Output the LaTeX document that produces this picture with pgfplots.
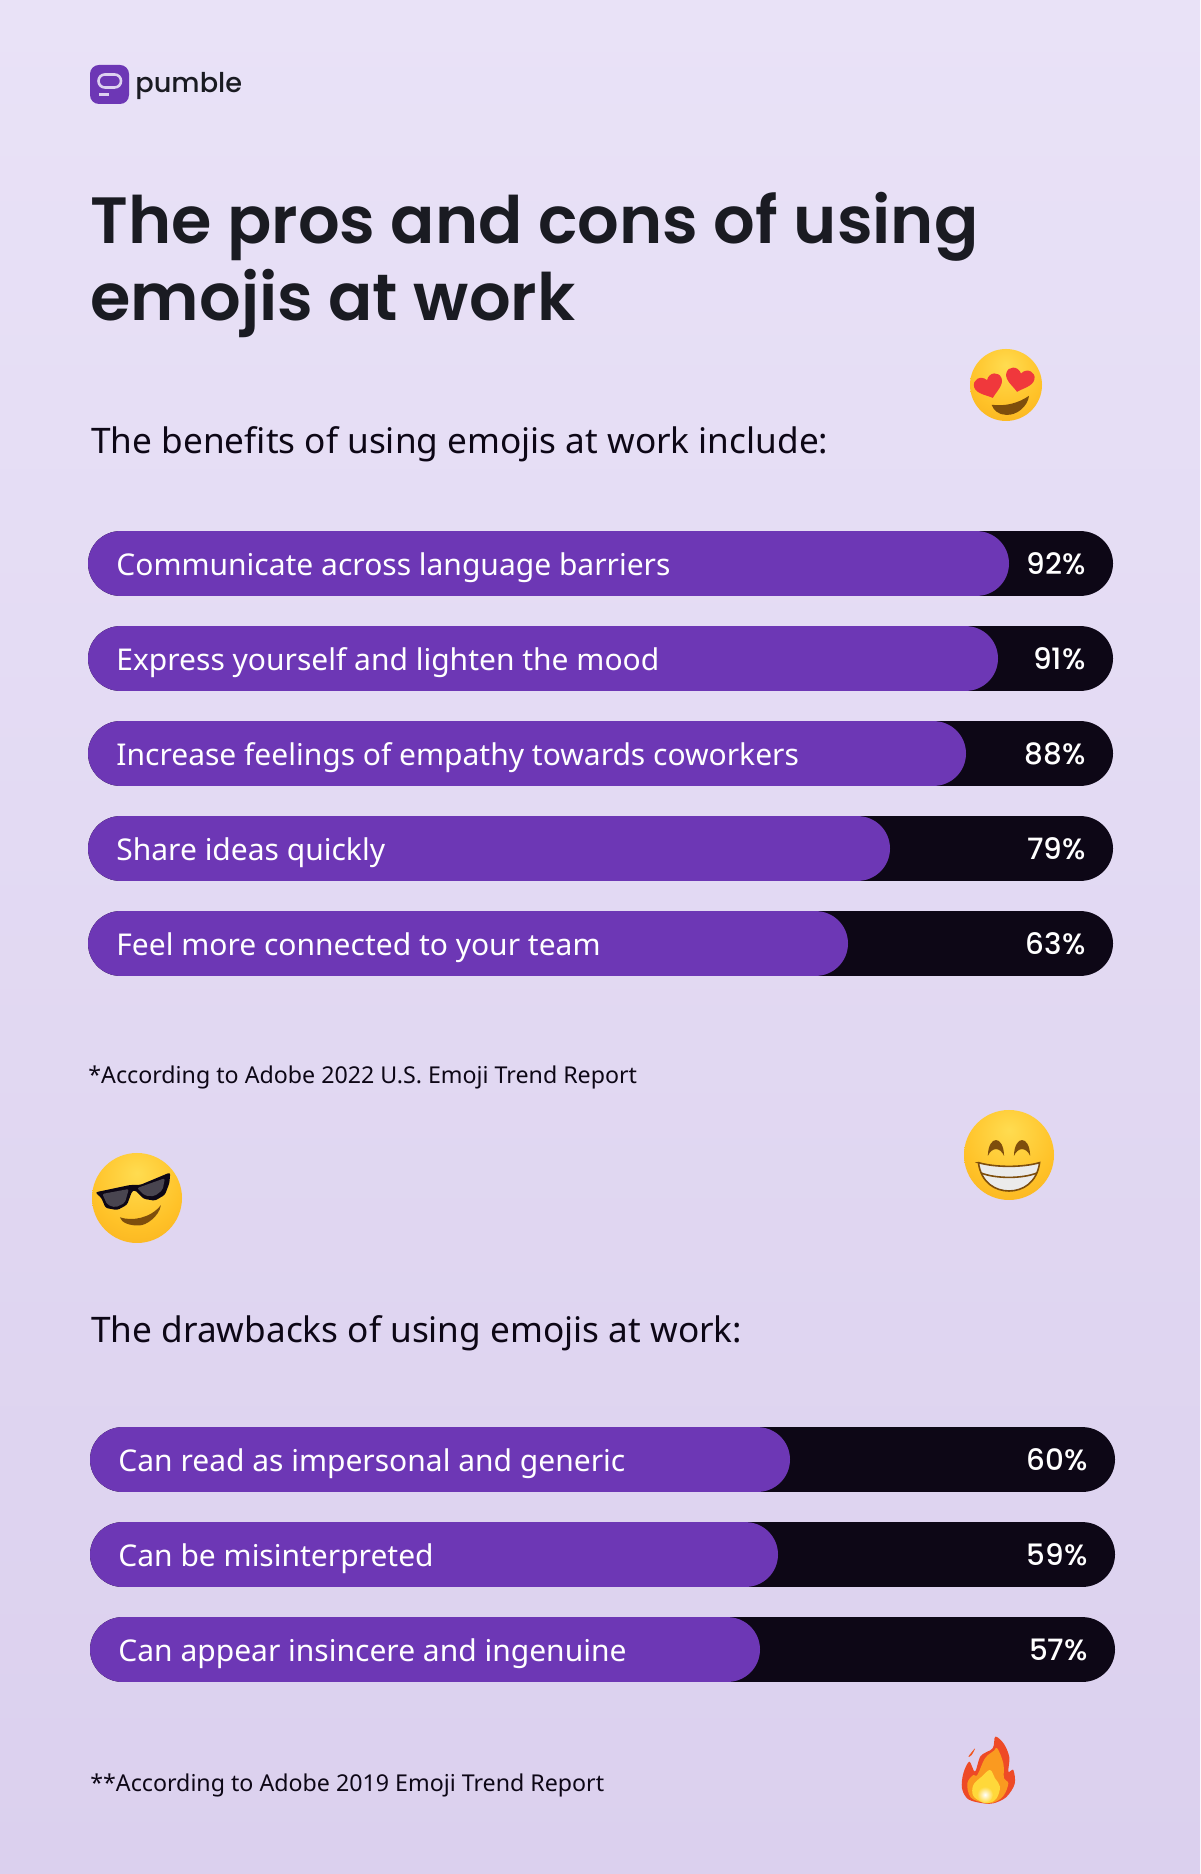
\documentclass[border=0pt]{standalone}
\usepackage{pgfplots}
\usepackage{pgfplotstable}
\usepackage{fontspec}
\pgfplotsset{compat=1.18}
\setmainfont{Noto Sans}
\newfontfamily\headfont{Poppins Medium}
\newfontfamily\titlefont{Poppins SemiBold}

\definecolor{barpurple}{HTML}{6D37B5}
\definecolor{trackdark}{HTML}{0D0716}
\definecolor{inkdark}{HTML}{1A1B22}
\definecolor{bgtop}{HTML}{E9E2F7}
\definecolor{bgbot}{HTML}{DBD0EE}
\definecolor{faceout}{HTML}{E98C0A}
\definecolor{facemid}{HTML}{FFC228}
\definecolor{facein}{HTML}{FFDC50}
\definecolor{facebrown}{HTML}{7E4E0C}
\definecolor{heartred}{HTML}{F0383C}
\definecolor{flamered}{HTML}{EE4A26}
\definecolor{flameorange}{HTML}{FA9A20}
\definecolor{flameyellow}{HTML}{FFD83A}

\pgfdeclareradialshading{emojiface}{\pgfpoint{0bp}{14bp}}{
  color(0bp)=(facein); color(26bp)=(facemid); color(46bp)=(facemid!60!faceout); color(62bp)=(faceout); color(100bp)=(faceout)}

% y = bar centre in picture pixels, len = purple length, pct = printed share
\pgfplotstableread{
y     track  len  pct
563.5 1025   921  92
658.5 1025   910  91
753.5 1025   878  88
848.5 1025   802  79
943.5 1025   760  63
}\benefits
\pgfplotstableread{
y      track  len  pct
1459.5 1025   700  60
1554.5 1025   688  59
1649.5 1025   670  57
}\drawbacks

\pgfplotsset{
  pic axis/.style={
    scale only axis, width=600pt, height=937pt,
    ymin=0, ymax=1874, y dir=reverse,
    hide axis, clip=false,
    at={(0,0)}, anchor=south west,
  },
  pill/.style={xbar, bar width=32.4pt, draw=none, fill=#1, rounded corners=16.2pt},
  share/.style={
    only marks, mark=none, point meta=explicit,
    /pgf/number format/assume math mode=true,
    nodes near coords={\pgfmathprintnumber{\pgfplotspointmeta}\%},
    nodes near coords align={anchor=east},
    every node near coord/.append style={text=white, font=\headfont\fontsize{14.7}{16}\selectfont, inner sep=0pt},
  },
}
\tikzset{
  barlabel/.style={anchor=west, text=white, inner sep=0pt, yshift=-2.2pt, font=\fontsize{15}{18}\selectfont},
  heading/.style={anchor=base west, text=trackdark, inner sep=0pt, font=\fontsize{17.6}{20}\selectfont},
  source/.style={anchor=base west, text=trackdark, inner sep=0pt, font=\fontsize{11.6}{14}\selectfont},
  titleline/.style={anchor=base west, text=inkdark, inner sep=0pt, font=\titlefont\fontsize{32.7}{38}\selectfont},
  face/.style={shading=emojiface},
}
\newcommand{\heart}[3]{% x, y, rotate
  \fill[heartred, shift={(#1,#2)}, rotate=#3, scale=0.4]
    (0,-.3) .. controls (-.3,-.8) and (-1,-.65) .. (-1,-.1)
    .. controls (-1,.4) and (-.3,.7) .. (0,1)
    .. controls (.3,.7) and (1,.4) .. (1,-.1)
    .. controls (1,-.65) and (.3,-.8) .. (0,-.3) -- cycle;
}

\begin{document}
\begin{tikzpicture}
\shade[top color=bgtop, bottom color=bgbot] (0,0) rectangle (600pt,937pt);

% benefits
\begin{axis}[pic axis, xmin=-88, xmax=1112]
\addplot[pill=trackdark] table[x=track, y=y] {\benefits};
\addplot[pill=barpurple] table[x=len, y=y] {\benefits};
\addplot[share] table[x expr=998, y=y, meta=pct] {\benefits};
\node[barlabel] at (axis cs:28,563.5) {Communicate across language barriers};
\node[barlabel] at (axis cs:28,658.5) {Express yourself and lighten the mood};
\node[barlabel] at (axis cs:28,753.5) {Increase feelings of empathy towards coworkers};
\node[barlabel] at (axis cs:28,848.5) {Share ideas quickly};
\node[barlabel] at (axis cs:28,943.5) {Feel more connected to your team};
\end{axis}

% drawbacks
\begin{axis}[pic axis, xmin=-90, xmax=1110]
\addplot[pill=trackdark] table[x=track, y=y] {\drawbacks};
\addplot[pill=barpurple] table[x=len, y=y] {\drawbacks};
\addplot[share] table[x expr=998, y=y, meta=pct] {\drawbacks};
\node[barlabel] at (axis cs:28,1459.5) {Can read as impersonal and generic};
\node[barlabel] at (axis cs:28,1554.5) {Can be misinterpreted};
\node[barlabel] at (axis cs:28,1649.5) {Can appear insincere and ingenuine};
\end{axis}

% texts, in picture pixels
\begin{axis}[pic axis, xmin=0, xmax=1200]
\addplot[draw=none] coordinates {(0,0) (1200,1874)};
\node[titleline] at (axis cs:90,243) {The pros and cons of using};
\node[titleline] at (axis cs:90,320) {emojis at work};
\node[heading] at (axis cs:91,453) {The benefits of using emojis at work include:};
\node[heading] at (axis cs:91,1342) {The drawbacks of using emojis at work:};
\node[source] at (axis cs:88,1083) {*According to Adobe 2022 U.S. Emoji Trend Report};
\node[source] at (axis cs:90,1791) {**According to Adobe 2019 Emoji Trend Report};
\node[anchor=base west, text=inkdark, inner sep=0pt, font=\headfont\fontsize{13.6}{18}\selectfont] at (axis cs:135,92) {pumble};
\end{axis}

% logo and emoji artwork, in picture pixels
\begin{scope}[x=0.5pt, y=-0.5pt, yshift=937pt]
  \fill[barpurple, rounded corners=4.5pt] (90,65) rectangle (129,104);
  \draw[draw=bgtop!90!barpurple, line width=1.3pt, rounded corners=3.2pt] (98.5,74.5) rectangle (121,87.5);
  \draw[draw=bgtop!90!barpurple, line width=1.4pt] (99,94.5) -- (109,94.5);

  % heart eyes
  \begin{scope}[shift={(1006,385)}, scale=36]
    \shade[face] (0,0) circle (1);
    \heart{-.49}{-.02}{18}
    \heart{.39}{-.2}{-12}
    \fill[facebrown] (-.4,.55) .. controls (0,.6) and (.35,.5) .. (.64,.3)
      .. controls (.6,.6) and (.3,.85) .. (0,.83)
      .. controls (-.2,.83) and (-.35,.7) .. cycle;
  \end{scope}

  % sunglasses
  \begin{scope}[shift={(137,1198)}, scale=45]
    \shade[face] (0,0) circle (1);
    \fill[trackdark, rounded corners=1.2pt] (-.93,-.125) -- (-.15,-.29) -- (.07,-.29) -- (.74,-.57) -- (.72,-.33) -- (.62,-.07)
      -- (.4,.06) -- (.15,.02) -- (-.05,-.18) -- (-.11,-.15) -- (-.22,.15) -- (-.44,.27) -- (-.7,.22) -- (-.79,0) -- cycle;
    \fill[trackdark!75!white, rounded corners=1pt] (-.77,-.09) -- (-.18,-.2) -- (-.27,.11) -- (-.48,.21) -- (-.66,.15) -- cycle;
    \fill[trackdark!75!white, rounded corners=1pt] (0,-.22) -- (.62,-.44) -- (.57,-.18) -- (.39,-.04) -- (.18,-.05) -- cycle;
    \fill[facebrown] (-.38,.43) .. controls (-.1,.52) and (.3,.45) .. (.53,.16)
      .. controls (.5,.4) and (.2,.62) .. (.04,.61)
      .. controls (-.15,.62) and (-.35,.55) .. cycle;
  \end{scope}

  % grin
  \begin{scope}[shift={(1009,1155)}, scale=45]
    \shade[face] (0,0) circle (1);
    \fill[facebrown] (-.47,.02) .. controls (-.46,-.45) and (-.12,-.45) .. (-.11,.02)
      .. controls (-.2,-.18) and (-.38,-.18) .. cycle;
    \fill[facebrown] (.11,.02) .. controls (.12,-.45) and (.46,-.45) .. (.47,.02)
      .. controls (.38,-.18) and (.2,-.18) .. cycle;
    \filldraw[fill=white!92!black, draw=facebrown, line width=.8pt] (-.68,.17) .. controls (-.3,.28) and (.3,.28) .. (.68,.17)
      .. controls (.62,.62) and (.3,.8) .. (0,.8)
      .. controls (-.3,.8) and (-.62,.62) .. cycle;
    \draw[facebrown, line width=.8pt] (-.62,.4) .. controls (-.3,.53) and (.3,.53) .. (.62,.4);
  \end{scope}

  % flame
  \begin{scope}[shift={(940,1720)}, scale=1/3]
    \fill[flamered] plot[smooth cycle, tension=.55] coordinates {(130,250) (85,238) (66,205) (70,160) (88,125) (105,155) (122,108) (158,85) (166,50) (192,72) (208,112) (205,155) (220,150) (224,192) (198,232) (160,250)};
    \fill[flamered!80!orange] plot[smooth cycle, tension=.6] coordinates {(85,110) (105,85) (95,105)};
    \fill[flameorange] plot[smooth cycle, tension=.6] coordinates {(130,248) (92,232) (82,190) (100,165) (112,165) (135,115) (162,92) (172,85) (190,130) (192,175) (205,190) (190,228) (160,248)};
    \fill[flameyellow] plot[smooth cycle, tension=.6] coordinates {(130,248) (100,228) (100,195) (125,170) (150,150) (165,175) (180,200) (170,235) (150,248)};
    \shade[inner color=white, outer color=flameyellow] (135,224) circle (24);
  \end{scope}
\end{scope}
\end{tikzpicture}
\end{document}
